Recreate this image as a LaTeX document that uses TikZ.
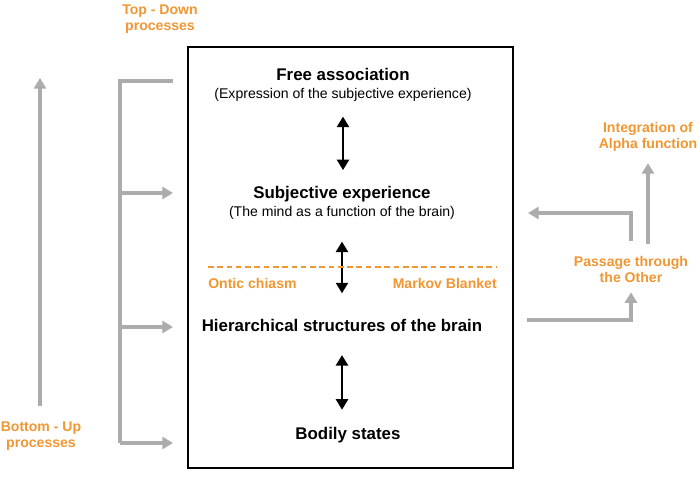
\documentclass[tikz,border=0pt]{standalone}
\usepackage{fontspec}
\setmainfont{Liberation Sans}
\usetikzlibrary{arrows.meta,positioning}
\definecolor{LabelOrange}{RGB}{240,150,50}
\definecolor{FlowGray}{RGB}{172,172,172}

\begin{document}
\begin{tikzpicture}[
    x=0.025cm, y=-0.025cm,
    title/.style={font=\fontsize{12}{14}\selectfont\bfseries, inner sep=0pt,
                  text height=9pt, text depth=2.5pt},
    sub/.style={font=\fontsize{10}{12}\selectfont, inner sep=0pt,
                text height=7.5pt, text depth=2.5pt},
    olabel/.style={font=\fontsize{10}{11.4}\selectfont\bfseries, text=LabelOrange,
                   align=center, inner sep=0pt},
    garr/.style={-{Triangle[length=7.5pt,width=8.5pt]}, draw=FlowGray, line width=2.5pt},
    gline/.style={draw=FlowGray, line width=2.5pt},
    barr/.style={{Triangle[length=7.5pt,width=8.5pt]}-{Triangle[length=7.5pt,width=8.5pt]},
                 line width=1.8pt}
  ]
    \useasboundingbox (0,0) rectangle (700,479);

    % the mind box
    \node[draw, line width=1.8pt, minimum width=8.125cm, minimum height=10.525cm,
          inner sep=0pt] (mind) at (350.5,257.5) {};

    \node[title] (freeassoc) at (343,76) {Free association};
    \node[sub, below=2pt of freeassoc] (freesub) {(Expression of the subjective experience)};
    \node[title] (subj) at (342,194) {Subjective experience};
    \node[sub, below=2pt of subj] (subjsub) {(The mind as a function of the brain)};
    \node[title] (hier) at (342,327) {Hierarchical structures of the brain};
    \node[title] (body) at (348,435) {Bodily states};

    \draw[barr, shorten <=10.5pt, shorten >=11pt] (freesub.south) -- (freesub.south |- subj.north);
    \draw[barr, shorten <=15.5pt, shorten >=18pt] (subjsub.south) -- (subjsub.south |- hier.north);
    \draw[barr, shorten <=14pt, shorten >=12pt] (hier.south) -- (hier.south |- body.north);

    % markov blanket
    \coordinate (blanketL) at (208,267);
    \coordinate (blanketR) at (497,267);
    \draw[LabelOrange, line width=1.5pt, dash pattern=on 4pt off 2.6pt] (blanketL) -- (blanketR);
    \node[olabel, anchor=west] (ontic) at (208,283) {Ontic chiasm};
    \node[olabel, anchor=east] (markov) at (497,283) {Markov Blanket};

    % left side
    \node[olabel] (topdown) at (160,19) {Top - Down\\processes};
    \node[olabel] (bottomup) at (41,436) {Bottom - Up\\processes};
    \coordinate (buTop) at (40,78);
    \draw[garr, shorten <=11pt] (bottomup.north -| buTop) -- (buTop);

    \coordinate (tdTop) at (173,81);
    \coordinate (spineTop) at (120,81);
    \coordinate (spineSubj) at (120,193);
    \coordinate (spineHier) at (120,327);
    \coordinate (spineBody) at (120,443);
    \draw[gline] (tdTop) -- (spineTop) -- (spineBody);
    \draw[garr] (spineSubj) -- (spineSubj -| tdTop);
    \draw[garr] (spineHier) -- (spineHier -| tdTop);
    \draw[garr] (spineBody) -- (spineBody -| tdTop);

    % right side
    \node[olabel] (passage) at (631,269) {Passage through\\the Other};
    \node[olabel] (alpha) at (648,137) {Integration of\\Alpha function};
    \coordinate (hierOut) at (527,320);
    \coordinate (subjIn) at (528,213);
    \draw[garr, shorten >=7pt] (hierOut) -| (passage.south);
    \draw[garr, shorten <=10pt] (passage.north) |- (subjIn);
    \draw[garr, shorten <=8pt, shorten >=8pt] (passage.north -| alpha) -- (alpha.south);
\end{tikzpicture}
\end{document}
